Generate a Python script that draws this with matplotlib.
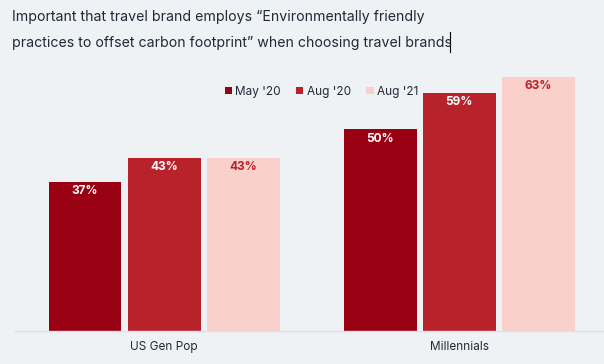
import matplotlib.pyplot as plt
import numpy as np
from matplotlib.lines import Line2D

groups = ['US Gen Pop', 'Millennials']
series = ["May '20", "Aug '20", "Aug '21"]
values = {
    "May '20": [37, 50],
    "Aug '20": [43, 59],
    "Aug '21": [43, 63],
}
colors = ['#990011', '#b8222b', '#f9d0ca']
label_colors = ['white', 'white', '#b8222b']
title = ('Important that travel brand employs \u201cEnvironmentally friendly\n'
         'practices to offset carbon footprint\u201d when choosing travel brands')

bg = '#eef2f5'
W, H = 604, 364
fig = plt.figure(figsize=(W / 100, H / 100), dpi=100, facecolor=bg)
plt.rcParams['font.family'] = ['Inter', 'DejaVu Sans']

# axes placed in pixel terms: baseline at y=331, 63% top at y=77
ax = fig.add_axes([15 / W, (H - 331) / H, (W - 15) / W, 254 / H])
ax.set_facecolor(bg)

x = np.arange(len(groups))
offset = 0.268
width = 0.247
for i, s in enumerate(series):
    xs = x + (i - 1) * offset
    bars = ax.bar(xs, values[s], width=width, color=colors[i], label=s, zorder=2)
    for xi, v in zip(xs, values[s]):
        ax.text(xi, v - 2.3, f'{v}%', ha='center', va='center', fontsize=8.5,
                fontweight='bold', color=label_colors[i], zorder=3)

ax.set_xlim(-0.505, 1.49)
ax.set_ylim(0, 63)
ax.set_xticks(x)
ax.set_xticklabels(groups, fontsize=8.5, color='#1f2a36')
ax.tick_params(axis='x', length=0, pad=7)
ax.set_yticks([])
for sp in ['top', 'right', 'left']:
    ax.spines[sp].set_visible(False)
ax.spines['bottom'].set_color('#dde2e6')
ax.spines['bottom'].set_linewidth(1)

leg = ax.legend(loc='upper left', bbox_to_anchor=(205 / (W - 15), 0.984), ncol=3,
                frameon=False, fontsize=8.5, handlelength=0.6, handleheight=0.6,
                handletextpad=0.3, columnspacing=1.3, borderaxespad=0)
for t in leg.get_texts():
    t.set_color('#1f2a36')

fig.text(12 / W, 1 - 10 / H, title, ha='left', va='top', fontsize=10.2,
         color='#1f2a36', linespacing=2.1)
# text cursor after the title
fig.add_artist(Line2D([450 / W, 450 / W], [1 - 52 / H, 1 - 32 / H],
                      color='black', lw=0.8))

fig.savefig('out.png', dpi=100, facecolor=bg)
